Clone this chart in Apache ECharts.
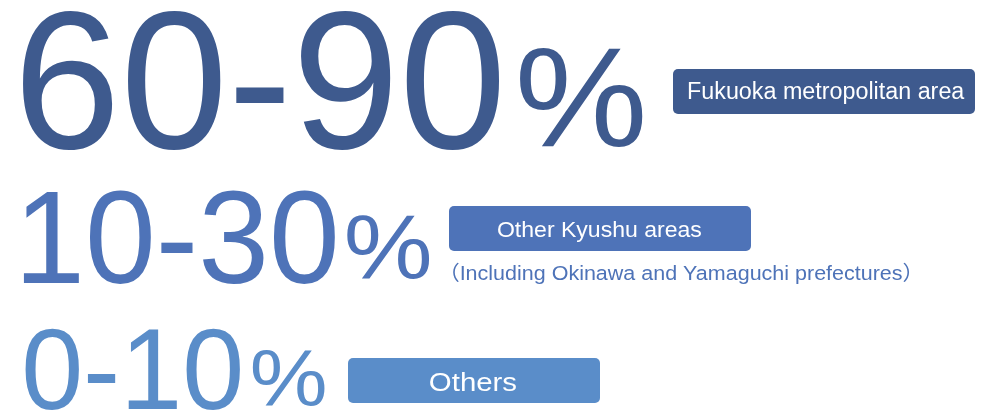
<!DOCTYPE html>
<html>
<head>
<meta charset="utf-8">
<script src="https://cdn.jsdelivr.net/npm/echarts@6/dist/echarts.min.js"></script>
<style>
  html, body { margin: 0; padding: 0; background: #fff; }
  #main { width: 982px; height: 414px; }
</style>
</head>
<body>
<div id="main"></div>
<script>
// share ranges by region
const lowPct = [60, 10, 0]
const highPct = [90, 30, 10]
const regions = ['Fukuoka metropolitan area', 'Other Kyushu areas', 'Others']
const notes = ['', '（Including Okinawa and Yamaguchi prefectures）', '']

// styling per row: target ink boxes (l, t, r, b) in px
const rowColors = ['#3e5a8e', '#4e73b8', '#5a8dc9']
const numBoxes = [
  { l: 23, t: 10, r: 499, b: 150 },
  { l: 23, t: 190, r: 335, b: 283 },
  { l: 25, t: 328, r: 240, b: 410 }
]
const pctBoxes = [
  { l: 520, t: 48, r: 643, b: 148 },
  { l: 347, t: 215, r: 430, b: 280 },
  { l: 252, t: 350, r: 325, b: 407 }
]
const tagRects = [
  { x: 673, y: 69, w: 302, h: 45 },
  { x: 449, y: 206, w: 302, h: 45 },
  { x: 348, y: 358, w: 252, h: 45 }
]
// for tags and notes t/b are cap top and baseline
const tagTextBoxes = [
  { l: 688, t: 82, r: 965, b: 98.5 },
  { l: 498, t: 222, r: 702, b: 237 },
  { l: 430, t: 372.5, r: 517, b: 390.5 }
]
const noteBoxes = [null, { l: 453, t: 266, r: 910, b: 280 }, null]

const FONT = "'Liberation Sans', Arial, 'Noto Sans CJK JP', sans-serif"
const measureCtx = document.createElement('canvas').getContext('2d')

function measure(text, size) {
  measureCtx.font = size + 'px ' + FONT
  measureCtx.textBaseline = 'middle'
  measureCtx.textAlign = 'left'
  const m = measureCtx.measureText(text)
  return {
    left: -m.actualBoundingBoxLeft,
    right: m.actualBoundingBoxRight,
    top: -m.actualBoundingBoxAscent,
    bottom: m.actualBoundingBoxDescent
  }
}

// size and stretch a text so its ink fills box; vRef gives the vertical extent
function fitText(text, box, color, vRef) {
  const ref = vRef || text
  const v0 = measure(ref, 100)
  const size = 100 * (box.b - box.t) / (v0.bottom - v0.top)
  const m = measure(text, size)
  const v = measure(ref, size)
  const sx = (box.r - box.l) / (m.right - m.left)
  return {
    type: 'text',
    x: box.l - m.left * sx,
    y: box.t - v.top,
    scaleX: sx,
    style: {
      text: text,
      x: 0, y: 0,
      font: size + 'px ' + FONT,
      fill: color,
      align: 'left',
      verticalAlign: 'middle'
    }
  }
}

function renderItem(params, api) {
  const i = api.value(0)
  const color = rowColors[i]
  const rect = tagRects[i]
  const children = [
    fitText(lowPct[i] + '-' + highPct[i], numBoxes[i], color),
    fitText('%', pctBoxes[i], color),
    {
      type: 'rect',
      shape: { x: rect.x, y: rect.y, width: rect.w, height: rect.h, r: 5 },
      style: { fill: color }
    },
    fitText(regions[i], tagTextBoxes[i], '#fff', 'H')
  ]
  if (noteBoxes[i] && notes[i]) {
    children.push(fitText(notes[i], noteBoxes[i], color, 'H'))
  }
  return { type: 'group', children }
}

const chart = echarts.init(document.getElementById('main'), null, { renderer: 'canvas' })
chart.setOption({
  animation: false,
  backgroundColor: '#fff',
  series: [{
    type: 'custom',
    coordinateSystem: 'none',
    renderItem: renderItem,
    data: lowPct.map((v, i) => [i])
  }]
})
</script>
</body>
</html>
